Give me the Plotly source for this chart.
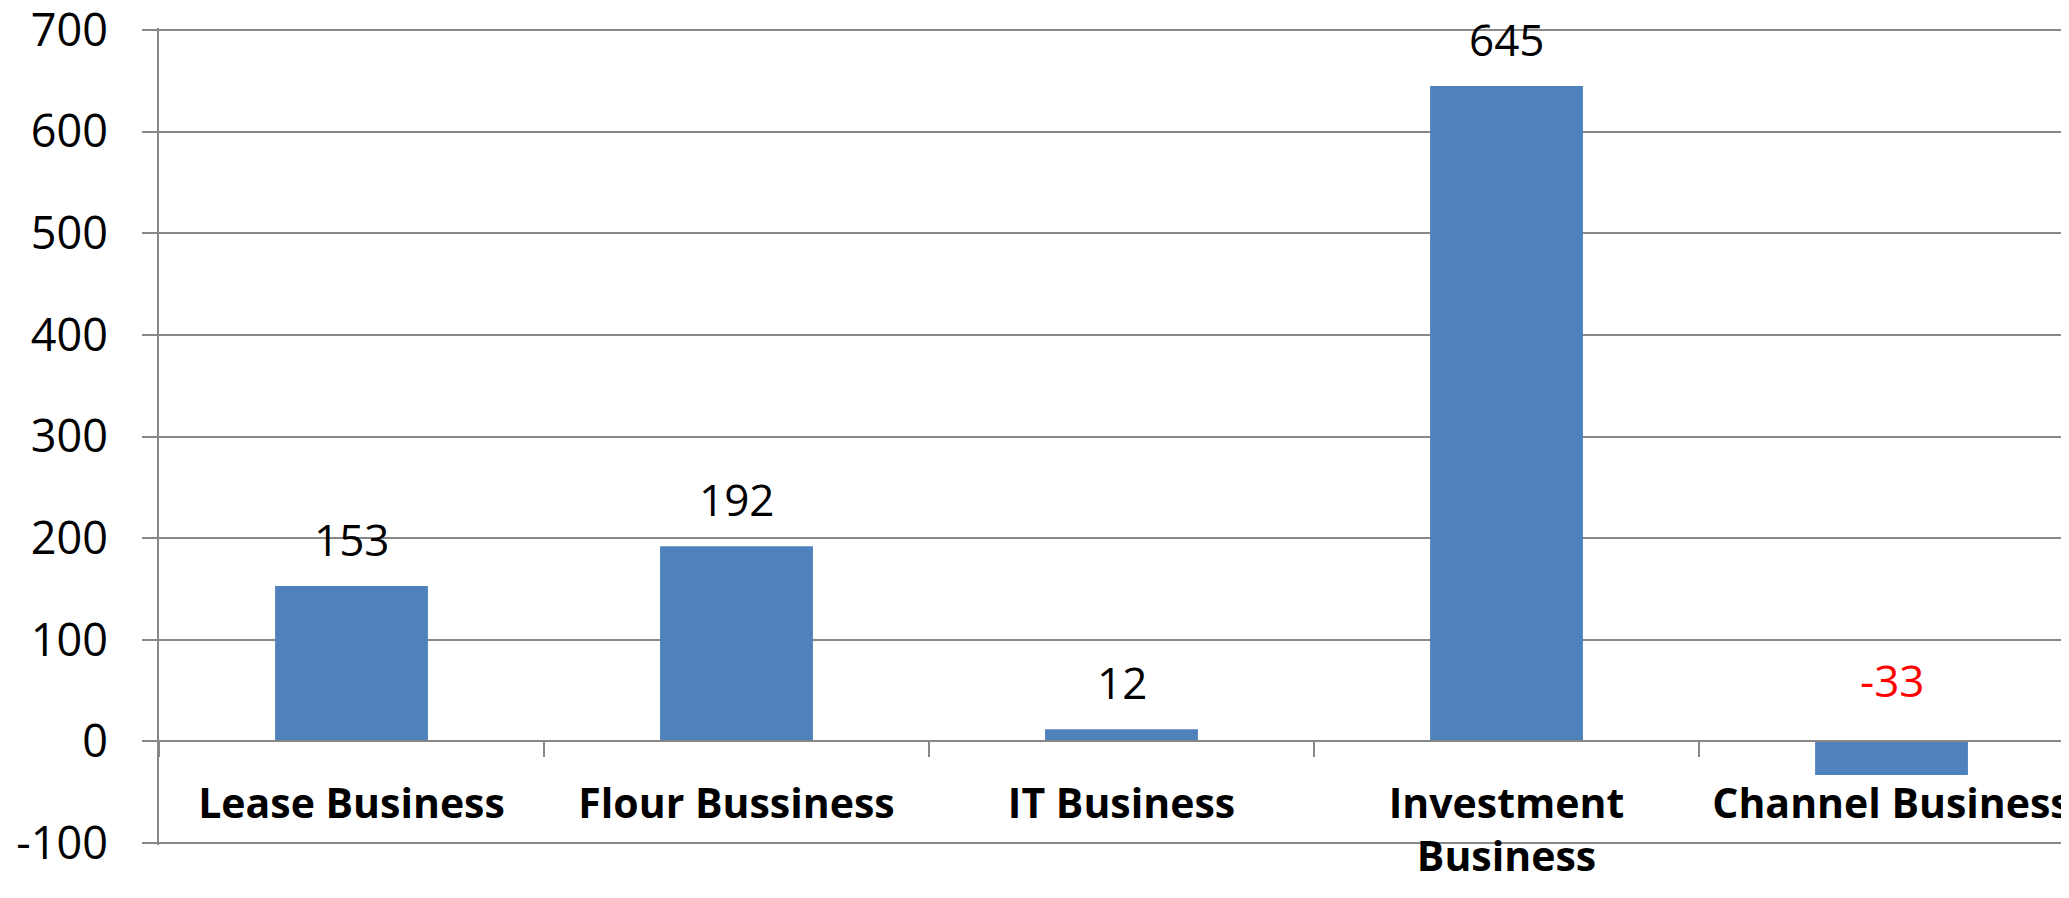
import plotly.graph_objects as go

categories = ["Lease Business", "Flour Bussiness", "IT Business", "Investment<br>Business", "Channel Business"]
values = [153, 192, 12, 645, -33]
label_texts = ["153", "192", "12", "645", "-33"]
label_colors = ["#000000", "#000000", "#000000", "#000000", "#FF0000"]
y_ticks = [-100, 0, 100, 200, 300, 400, 500, 600, 700]

GRID = "#888888"
FONT = "Open Sans"

# y range padded by ~2px so the edge gridlines at -100 and 700 are drawn
Y_PAD = 1.97
y_lo, y_hi = -100 - Y_PAD, 700 + Y_PAD

fig = go.Figure()
fig.add_trace(go.Bar(
    x=categories, y=values,
    marker=dict(color="#4F81BD", line=dict(width=0)),
    hoverinfo="x+y",
))

for c, v, t, col in zip(categories, values, label_texts, label_colors):
    fig.add_annotation(
        x=c, y=max(v, 0), text=t, showarrow=False,
        xref="x", yref="y", yanchor="bottom",
        yshift=15 if v >= 0 else 29,
        font=dict(family=FONT, size=44, color=col),
    )

fig.update_layout(
    width=2061, height=890,
    margin=dict(l=151, r=0, t=20, b=53, pad=0, autoexpand=False),
    paper_bgcolor="white", plot_bgcolor="white",
    bargap=0.603,
    showlegend=False,
    font=dict(family=FONT, color="black"),
    xaxis=dict(
        type="category",
        range=[-0.5, 4.461],
        anchor="free", position=(0 - y_lo) / (y_hi - y_lo),
        showline=True, linecolor=GRID, linewidth=2,
        showgrid=False, zeroline=False,
        ticks="outside", tickson="boundaries", ticklen=15, tickwidth=2, tickcolor=GRID,
        tickfont=dict(family=FONT, size=41, color="black", weight="bold"),
        ticklabelstandoff=26,
        ticklabeloverflow="allow",
        automargin=False,
        fixedrange=True,
    ),
    yaxis=dict(
        range=[y_lo, y_hi],
        tickvals=y_ticks,
        ticktext=[str(v) for v in y_ticks],
        showgrid=True, gridcolor=GRID, gridwidth=2,
        showline=True, linecolor=GRID, linewidth=2,
        zeroline=False,
        ticks="outside", ticklen=15, tickwidth=2, tickcolor=GRID,
        tickfont=dict(family=FONT, size=45, color="black"),
        ticklabelstandoff=25,
        ticklabeloverflow="allow",
        automargin=False,
        fixedrange=True,
    ),
)

fig.write_html("out.html")
